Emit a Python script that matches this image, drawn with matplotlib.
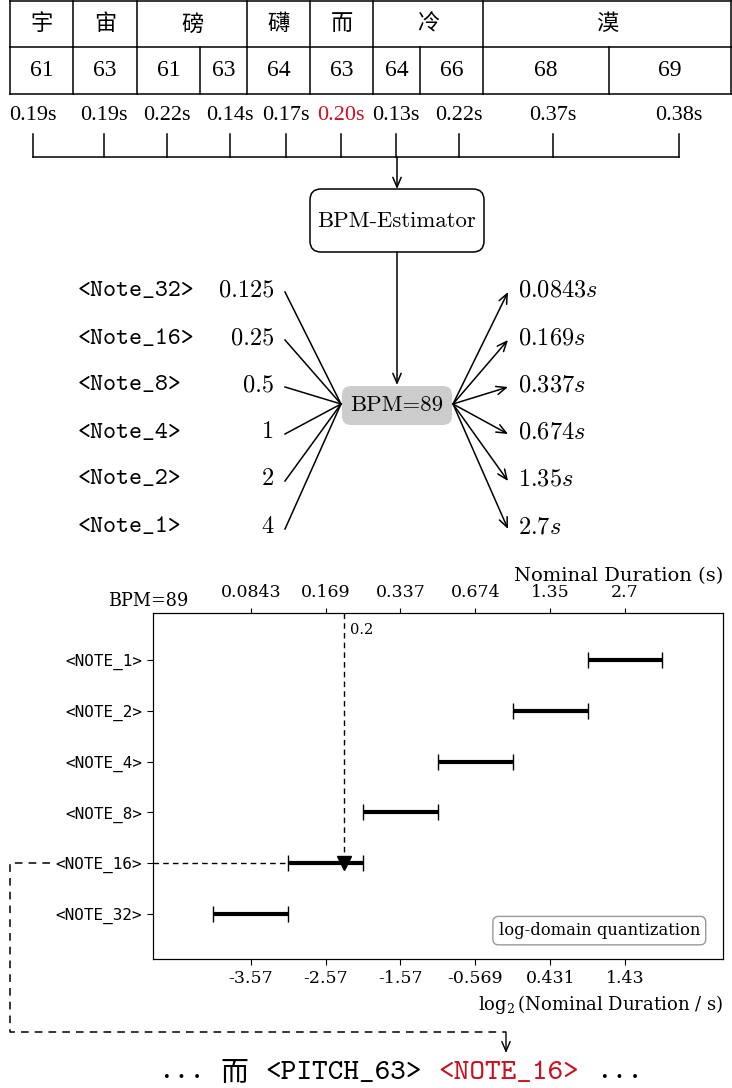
import matplotlib

matplotlib.use("Agg")
import matplotlib.pyplot as plt  # noqa: E402
import numpy as np  # noqa: E402
from matplotlib.patches import FancyBboxPatch  # noqa: E402

# --- data -------------------------------------------------------------
chars = ["宇", "宙", "磅", "礴", "而", "冷", "漠"]
char_spans = [1, 1, 2, 1, 1, 2, 2]          # pitch cells covered by each char
pitches = [61, 63, 61, 63, 64, 63, 64, 66, 68, 69]
durations = ["0.19s", "0.19s", "0.22s", "0.14s", "0.17s",
             "0.20s", "0.13s", "0.22s", "0.37s", "0.38s"]
highlight = 5                                # the 0.20s note of 而

bpm = 89
note_names = ["<Note_32>", "<Note_16>", "<Note_8>", "<Note_4>", "<Note_2>", "<Note_1>"]
note_beats = ["0.125", "0.25", "0.5", "1", "2", "4"]
note_secs = ["0.0843", "0.169", "0.337", "0.674", "1.35", "2.7"]

q_notes = ["<NOTE_1>", "<NOTE_2>", "<NOTE_4>", "<NOTE_8>", "<NOTE_16>", "<NOTE_32>"]
q_log = [1.43, 0.431, -0.569, -1.57, -2.57, -3.57]   # log2 nominal duration
q_log_labels = ["-3.57", "-2.57", "-1.57", "-0.569", "0.431", "1.43"]
half_width = 0.5
observed = 0.2
chosen = "<NOTE_16>"

# --- layout (pixels) --------------------------------------------------
W, H = 732, 1088
col_edges = [10, 73, 137, 200, 247, 310, 373, 420, 483, 609, 731]
dur_x = [33, 104, 167, 230, 286, 341, 396, 459, 553, 679]
row_y = [290, 338, 385, 432, 479, 527]
RED = "#cc1020"
ARROW = "->,head_length=0.7,head_width=0.3"

fig = plt.figure(figsize=(W / 100, H / 100), dpi=100)
ov = fig.add_axes([0, 0, 1, 1])
ov.set_xlim(0, W)
ov.set_ylim(H, 0)
ov.axis("off")

lw = 1.1
# table
for y in (1, 47, 94):
    ov.plot([col_edges[0], col_edges[-1]], [y, y], color="k", lw=lw)
bounds = np.concatenate([[0], np.cumsum(char_spans)])
for b in bounds:
    ov.plot([col_edges[b]] * 2, [1, 47], color="k", lw=lw)
for x in col_edges:
    ov.plot([x, x], [47, 94], color="k", lw=lw)
for i, ch in enumerate(chars):
    cx = (col_edges[bounds[i]] + col_edges[bounds[i + 1]]) / 2
    ov.text(cx, 24, ch, ha="center", va="center", fontsize=16,
            family="Noto Sans CJK SC")
for i, p in enumerate(pitches):
    cx = (col_edges[i] + col_edges[i + 1]) / 2
    ov.text(cx, 71, str(p), ha="center", va="center", fontsize=17,
            family="Liberation Serif")
for i, d in enumerate(durations):
    ov.text(dur_x[i], 115, d, ha="center", va="center", fontsize=16,
            family="Liberation Serif", color=RED if i == highlight else "k")

# bracket
for x in dur_x:
    ov.plot([x, x], [134, 157], color="k", lw=lw)
ov.plot([dur_x[0], dur_x[-1]], [157, 157], color="k", lw=lw)
est_cx = 397
ov.annotate("", xy=(est_cx, 189), xytext=(est_cx, 157),
            arrowprops=dict(arrowstyle=ARROW, lw=lw, shrinkA=0, shrinkB=0))

# BPM estimator
ov.add_patch(FancyBboxPatch((310, 189), 174, 63,
                            boxstyle="round,pad=0,rounding_size=11",
                            fc="white", ec="k", lw=lw))
ov.text(est_cx, 221, "BPM-Estimator", ha="center", va="center",
        fontsize=16.4, family="cmr10")
ov.annotate("", xy=(est_cx, 385), xytext=(est_cx, 252),
            arrowprops=dict(arrowstyle=ARROW, lw=lw, shrinkA=0, shrinkB=0))
ov.add_patch(FancyBboxPatch((342, 386), 110, 39,
                            boxstyle="round,pad=0,rounding_size=9",
                            fc="#cccccc", ec="none"))
ov.text(est_cx, 405, f"BPM={bpm}", ha="center", va="center",
        fontsize=16.4, family="cmr10")

for i, y in enumerate(row_y):
    ov.text(78, y + 1, note_names[i], ha="left", va="center", fontsize=17.8,
            family="cmtt10")
    ov.text(274, y, note_beats[i], ha="right", va="center", fontsize=17.5,
            family="cmr10")
    ov.plot([285, 341], [y + 2, 404], color="k", lw=lw)
    ov.annotate("", xy=(508, y + 2), xytext=(453, 404),
                arrowprops=dict(arrowstyle=ARROW, lw=lw, shrinkA=0, shrinkB=0))
    ov.text(518, y, note_secs[i] + "$s$", ha="left", va="center",
            fontsize=17.5, family="cmr10", math_fontfamily="cm")

# --- quantization chart ------------------------------------------------
ax = fig.add_axes([153 / W, (H - 959) / H, (723 - 153) / W, (959 - 613) / H])
xlim = (-4.877, 2.74)
ax.set_xlim(*xlim)
ax.set_ylim(5.89, -0.93)
ypos = np.arange(len(q_notes))
ax.errorbar(q_log, ypos, xerr=half_width, fmt="none", ecolor="k",
            elinewidth=3, capsize=6, capthick=1)

k = q_notes.index(chosen)
x_obs = np.log2(observed)
ax.plot([x_obs, x_obs], [-0.93, k], color="k", lw=1, dashes=(4, 3))
ax.plot([xlim[0], q_log[k] - half_width], [k, k], color="k", lw=1, dashes=(4, 3))
ax.plot(x_obs, k, marker="v", ms=10.5, color="k", zorder=5)
ax.text(x_obs + 0.08, -0.6, f"{observed:g}", fontsize=10.5,
        family="DejaVu Serif", va="center")

ticks = sorted(q_log)
ax.set_xticks(ticks)
ax.set_xticklabels(q_log_labels, family="DejaVu Serif", fontsize=12.5)
ax.set_yticks(ypos)
ax.set_yticklabels(q_notes, family="DejaVu Sans Mono", fontsize=11.5)
ax.set_xlabel(r"$\log_2$(Nominal Duration / s)", loc="right", fontsize=13,
              family="DejaVu Serif", math_fontfamily="dejavuserif", labelpad=4)
ax.tick_params(length=4.5)

top = ax.twiny()
top.set_xlim(*xlim)
top.set_xticks(ticks)
top.set_xticklabels(note_secs, family="DejaVu Serif", fontsize=12.5)
top.tick_params(length=3.5, pad=5)
top.set_xlabel("Nominal Duration (s)", loc="right", fontsize=14,
               family="DejaVu Serif", labelpad=2)

ax.text(0.783, 0.082, "log-domain quantization", transform=ax.transAxes,
        ha="center", va="center", fontsize=11.8, family="DejaVu Serif",
        bbox=dict(boxstyle="round,pad=0.35", fc="white", ec="#999999", lw=1))

ov.text(148, 601, f"BPM={bpm}", ha="center", va="center", fontsize=12.7,
        family="DejaVu Serif")

# --- link to output token sequence -------------------------------------
dash = dict(color="k", lw=1.1, dashes=(5, 4))
ov.plot([50, 10, 10, 506], [863, 863, 1032, 1032], **dash)
ov.annotate("", xy=(506, 1053), xytext=(506, 1032),
            arrowprops=dict(arrowstyle=ARROW, lw=1, shrinkA=0, shrinkB=0))

ov.text(158, 1073, "...", ha="left", va="center", fontsize=21.5, family="cmtt10")
ov.text(221, 1073, "而", ha="left", va="center", fontsize=20,
        family="Noto Sans CJK SC")
ov.text(265, 1073, "<PITCH_63>", ha="left", va="center", fontsize=21.5,
        family="cmtt10")
ov.text(438, 1073, chosen, ha="left", va="center", fontsize=21.5,
        family="cmtt10", color=RED)
ov.text(596, 1073, "...", ha="left", va="center", fontsize=21.5, family="cmtt10")

fig.savefig("out.png", dpi=100)
plt.close(fig)
